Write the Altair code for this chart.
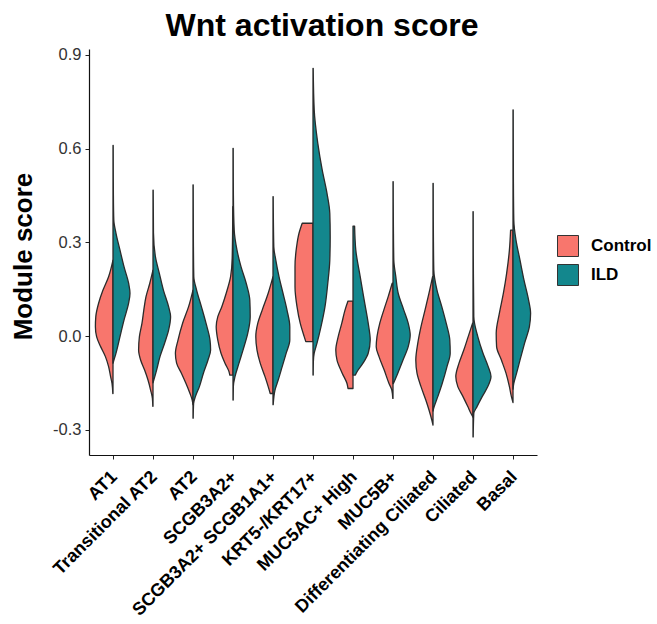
import json
import altair as alt
import pandas as pd

CATEGORIES = ["AT1", "Transitional AT2", "AT2", "SCGB3A2+", "SCGB3A2+ SCGB1A1+",
              "KRT5-/KRT17+", "MUC5AC+ High", "MUC5B+", "Differentiating Ciliated",
              "Ciliated", "Basal"]
GROUPS = ["Control", "ILD"]
COLORS = ["#F8766D", "#13878D"]
Y_TICKS = [-0.3, 0.0, 0.3, 0.6, 0.9]

# half-violin profiles: (module score, relative density width)
at1_ctrl = [(0.243, 0), (0.19, 0.11), (0.147, 0.25), (0.105, 0.36), (0.062, 0.43), (0.03, 0.44),
            (-0.002, 0.41), (-0.034, 0.31), (-0.066, 0.19), (-0.098, 0.11), (-0.13, 0.06),
            (-0.152, 0.025), (-0.184, 0.005)]
at1_ild = [(0.61, 0.005), (0.45, 0.01), (0.371, 0.02), (0.329, 0.075), (0.275, 0.175), (0.222, 0.275),
           (0.169, 0.39), (0.137, 0.425), (0.105, 0.39), (0.051, 0.275), (-0.002, 0.175),
           (-0.055, 0.075), (-0.087, 0.0)]
tat2_ctrl = [(0.211, 0), (0.169, 0.08), (0.126, 0.175), (0.083, 0.23), (0.041, 0.275), (-0.002, 0.34),
             (-0.045, 0.36), (-0.077, 0.31), (-0.109, 0.21), (-0.141, 0.125), (-0.173, 0.06),
             (-0.2, 0.015), (-0.225, 0.005)]
tat2_ild = [(0.467, 0.005), (0.33, 0.012), (0.254, 0.06), (0.2, 0.16), (0.147, 0.26), (0.094, 0.39),
            (0.062, 0.44), (0.019, 0.39), (-0.023, 0.29), (-0.066, 0.175), (-0.109, 0.09), (-0.15, 0.0)]
at2_ctrl = [(0.147, 0), (0.094, 0.11), (0.041, 0.26), (-0.013, 0.375), (-0.055, 0.44), (-0.087, 0.41),
            (-0.119, 0.29), (-0.152, 0.175), (-0.184, 0.075), (-0.205, 0.02), (-0.22, 0.0)]
at2_ild = [(0.484, 0.005), (0.3, 0.01), (0.19, 0.02), (0.147, 0.09), (0.094, 0.21), (0.041, 0.325),
           (-0.013, 0.425), (-0.045, 0.44), (-0.077, 0.375), (-0.119, 0.26), (-0.162, 0.16),
           (-0.194, 0.06), (-0.216, 0.015), (-0.263, 0.005)]
scgb3a2_ctrl = [(0.414, 0.005), (0.25, 0.02), (0.19, 0.06), (0.137, 0.17), (0.094, 0.28), (0.062, 0.38),
                (0.03, 0.42), (-0.013, 0.38), (-0.055, 0.30), (-0.087, 0.2), (-0.114, 0.1), (-0.125, 0.08)]
scgb3a2_ild = [(0.601, 0.005), (0.45, 0.01), (0.339, 0.03), (0.275, 0.1), (0.222, 0.2), (0.169, 0.33),
               (0.115, 0.42), (0.062, 0.43), (0.009, 0.37), (-0.045, 0.25), (-0.087, 0.15),
               (-0.13, 0.05), (-0.16, 0.01), (-0.205, 0.005)]
scgb_dbl_ctrl = [(0.19, 0), (0.137, 0.12), (0.083, 0.27), (0.041, 0.38), (-0.002, 0.43), (-0.045, 0.40),
                 (-0.087, 0.32), (-0.13, 0.2), (-0.162, 0.12), (-0.184, 0.07)]
scgb_dbl_ild = [(0.446, 0.005), (0.286, 0.02), (0.243, 0.07), (0.19, 0.15), (0.137, 0.25), (0.083, 0.35),
                (0.03, 0.42), (-0.013, 0.42), (-0.055, 0.33), (-0.098, 0.23), (-0.141, 0.13),
                (-0.173, 0.05), (-0.22, 0.005)]
krt5_ctrl = [(0.361, 0.27), (0.329, 0.35), (0.286, 0.41), (0.222, 0.45), (0.158, 0.45), (0.094, 0.40),
             (0.041, 0.32), (-0.002, 0.22), (-0.018, 0.18)]
krt5_ild = [(0.857, 0.005), (0.724, 0.03), (0.617, 0.12), (0.532, 0.23), (0.457, 0.35), (0.393, 0.42),
            (0.318, 0.43), (0.243, 0.42), (0.169, 0.37), (0.094, 0.30), (0.03, 0.2), (-0.023, 0.1),
            (-0.055, 0.03), (-0.08, 0.01), (-0.125, 0.005)]
muc5ac_ctrl = [(0.112, 0.125), (0.083, 0.2), (0.041, 0.28), (-0.002, 0.37), (-0.045, 0.43), (-0.077, 0.40),
               (-0.119, 0.27), (-0.152, 0.15), (-0.168, 0.125)]
muc5ac_ild = [(0.352, 0.04), (0.275, 0.07), (0.19, 0.18), (0.115, 0.28), (0.041, 0.38), (-0.013, 0.43),
              (-0.055, 0.38), (-0.087, 0.25), (-0.119, 0.08), (-0.125, 0.06)]
muc5b_ctrl = [(0.169, 0.02), (0.126, 0.12), (0.083, 0.23), (0.041, 0.33), (-0.002, 0.40), (-0.034, 0.42),
              (-0.066, 0.35), (-0.109, 0.22), (-0.152, 0.1), (-0.173, 0.03), (-0.2, 0.005)]
muc5b_ild = [(0.494, 0.005), (0.35, 0.01), (0.243, 0.02), (0.19, 0.07), (0.137, 0.13), (0.083, 0.27),
             (0.041, 0.38), (0.003, 0.43), (-0.034, 0.38), (-0.077, 0.25), (-0.119, 0.12), (-0.152, 0.01)]
diffcil_ctrl = [(0.19, 0.01), (0.137, 0.1), (0.083, 0.2), (0.03, 0.3), (-0.023, 0.38), (-0.077, 0.43),
                (-0.119, 0.40), (-0.162, 0.3), (-0.205, 0.18), (-0.237, 0.1), (-0.269, 0.03), (-0.285, 0.0)]
diffcil_ild = [(0.489, 0.005), (0.32, 0.01), (0.211, 0.02), (0.147, 0.1), (0.094, 0.22), (0.041, 0.33),
               (-0.013, 0.42), (-0.055, 0.43), (-0.098, 0.35), (-0.152, 0.23), (-0.194, 0.12),
               (-0.226, 0.03), (-0.24, 0.0)]
cil_ctrl = [(0.041, 0.01), (-0.002, 0.12), (-0.045, 0.23), (-0.087, 0.35), (-0.13, 0.43), (-0.162, 0.38),
            (-0.194, 0.25), (-0.226, 0.13), (-0.248, 0.05), (-0.26, 0.0)]
cil_ild = [(0.398, 0.005), (0.2, 0.01), (0.062, 0.02), (-0.002, 0.12), (-0.055, 0.25), (-0.098, 0.38),
           (-0.13, 0.45), (-0.162, 0.37), (-0.194, 0.23), (-0.226, 0.1), (-0.248, 0.02), (-0.323, 0.005)]
basal_ctrl = [(0.339, 0.06), (0.275, 0.09), (0.2, 0.16), (0.137, 0.24), (0.073, 0.34), (0.009, 0.42),
              (-0.034, 0.41), (-0.077, 0.29), (-0.119, 0.175), (-0.162, 0.09), (-0.194, 0.04), (-0.213, 0.0)]
basal_ild = [(0.724, 0.005), (0.5, 0.01), (0.371, 0.02), (0.307, 0.075), (0.243, 0.175), (0.179, 0.275),
             (0.115, 0.39), (0.073, 0.44), (0.03, 0.41), (-0.023, 0.29), (-0.077, 0.175), (-0.119, 0.09),
             (-0.152, 0.02), (-0.17, 0.0)]

PROFILES = [
    (at1_ctrl, at1_ild), (tat2_ctrl, tat2_ild), (at2_ctrl, at2_ild), (scgb3a2_ctrl, scgb3a2_ild),
    (scgb_dbl_ctrl, scgb_dbl_ild), (krt5_ctrl, krt5_ild), (muc5ac_ctrl, muc5ac_ild),
    (muc5b_ctrl, muc5b_ild), (diffcil_ctrl, diffcil_ild), (cil_ctrl, cil_ild), (basal_ctrl, basal_ild),
]

rows = []
for i, (cat, halves) in enumerate(zip(CATEGORIES, PROFILES)):
    for grp, prof, sign in zip(GROUPS, halves, (-1, 1)):
        for v, w in prof:
            rows.append({"category": cat, "group": grp, "key": f"{cat}|{grp}",
                         "center": i, "score": v, "edge": i + sign * w})
df = pd.DataFrame(rows)

cat_js = json.dumps(CATEGORIES)

chart = alt.Chart(df).mark_area(
    orient="horizontal", interpolate="monotone", stroke="#2b2b2b", strokeWidth=1.3,
    strokeJoin="round"
).encode(
    y=alt.Y("score:Q",
            scale=alt.Scale(domain=[-0.381, 0.919], nice=False, zero=False),
            axis=alt.Axis(values=Y_TICKS, title="Module score",
                          labelExpr="datum.value < 0 ? '-' + format(-datum.value, '.1f') : format(datum.value, '.1f')",
                          labelFontSize=16.5, labelColor="#333333", labelPadding=4,
                          tickSize=4, tickColor="#222222", domainColor="#111111", domainWidth=1.2,
                          titleFontSize=26, titleFontWeight="bold", titleColor="black",
                          titleX=-58, titleY=207, titleAngle=-90, titleAlign="center",
                          titleBaseline="alphabetic")),
    x=alt.X("edge:Q",
            scale=alt.Scale(domain=[-0.6, 10.6], nice=False, zero=False),
            axis=alt.Axis(values=list(range(len(CATEGORIES))), title=None,
                          labelExpr=f"{cat_js}[datum.value]",
                          labelAngle=-45, labelAlign="right", labelBaseline="middle",
                          labelFontSize=18, labelFontWeight="bold", labelColor="black",
                          labelPadding=15, labelOffset=1, labelOverlap=False, labelBound=False,
                          labelFlush=False, labelLimit=0,
                          tickSize=4, tickColor="#222222", domainColor="#111111", domainWidth=1.2)),
    x2="center:Q",
    color=alt.Color("group:N",
                    scale=alt.Scale(domain=GROUPS, range=COLORS),
                    legend=alt.Legend(title=None, orient="none", legendX=468, legendY=186,
                                      symbolType="square", symbolSize=441,
                                      symbolStrokeColor="#333333", symbolStrokeWidth=1,
                                      labelFontSize=17, labelFontWeight="bold", labelColor="black",
                                      labelOffset=12, rowPadding=3, padding=0)),
    detail="key:N",
).properties(
    width=448, height=406,
    padding={"left": 89, "top": 49, "right": 120, "bottom": 169},
    autosize=alt.AutoSizeParams(type="none"),
    title=alt.TitleParams("Wnt activation score", fontSize=32, fontWeight="bold",
                          anchor="middle", dx=9, offset=4, color="black"),
).configure(
    font="Liberation Sans"
).configure_view(stroke=None).configure_axis(grid=False)

chart.save("out.html", embed_options={"renderer": "svg", "actions": False})
